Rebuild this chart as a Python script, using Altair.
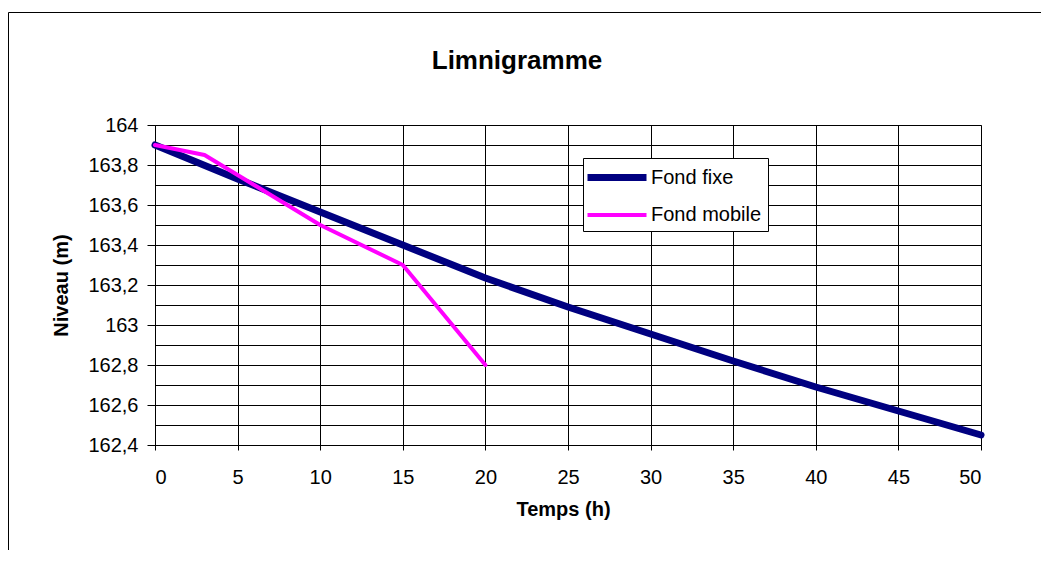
import altair as alt
import pandas as pd

# ---- data ----
temps_fixe = [0, 5, 10, 15, 20, 25, 30, 35, 40, 45, 50]
niveau_fixe = [163.9, 163.73, 163.565, 163.40, 163.235, 163.09, 162.955, 162.82, 162.69, 162.57, 162.45]

temps_mobile = [0, 3, 10, 15, 20]
niveau_mobile = [163.9, 163.85, 163.5, 163.3, 162.8]

series_names = ["Fond fixe", "Fond mobile"]
series_colors = ["#000080", "#FF00FF"]
series_widths = [7, 4]

x_ticks = [0, 5, 10, 15, 20, 25, 30, 35, 40, 45, 50]
y_ticks = [162.4, 162.5, 162.6, 162.7, 162.8, 162.9, 163.0, 163.1, 163.2, 163.3,
           163.4, 163.5, 163.6, 163.7, 163.8, 163.9, 164.0]

rows = []
for t, v in zip(temps_fixe, niveau_fixe):
    rows.append({"Temps": t, "Niveau": v, "Série": series_names[0], "ordre": 0})
for t, v in zip(temps_mobile, niveau_mobile):
    rows.append({"Temps": t, "Niveau": v, "Série": series_names[1], "ordre": 1})
df = pd.DataFrame(rows)

FONT = "Liberation Sans, Arial, sans-serif"
W, H = 826, 320

legend_props = dict(title=None, orient="none", legendX=428, legendY=33,
                    fillColor="white", strokeColor="black",
                    padding=6, symbolType="M-1.5,0H4.4", symbolSize=400,
                    labelFontSize=20, labelFont=FONT, labelColor="black",
                    labelOffset=35, rowPadding=11)

lines = alt.Chart(df).mark_line(strokeCap="round", strokeJoin="round").encode(
    x=alt.X("Temps:Q",
            scale=alt.Scale(domain=[0, 50], nice=False, zero=False),
            axis=alt.Axis(values=x_ticks, title="Temps (h)", grid=True,
                          tickSize=5, labelPadding=17, labelFontSize=20,
                          titleX=408, titleY=70, titleBaseline="alphabetic",
                          titleAnchor="start", titleAlign="center")),
    y=alt.Y("Niveau:Q",
            scale=alt.Scale(domain=[162.4, 164.0], nice=False, zero=False),
            axis=alt.Axis(values=y_ticks, title="Niveau (m)", grid=True,
                          tickSize=8, labelPadding=9, labelFontSize=20,
                          labelExpr="round(datum.value*10) % 2 == 0 ? replace(toString(round(datum.value*10)/10), '.', ',') : ''",
                          tickOpacity={"condition": {"test": "round(datum.value*10) % 2 == 0", "value": 1}, "value": 0},
                          titleX=-88, titleY=160, titleBaseline="alphabetic",
                          titleAngle=270)),
    color=alt.Color("Série:N",
                    scale=alt.Scale(domain=series_names, range=series_colors),
                    legend=alt.Legend(**legend_props)),
    strokeWidth=alt.StrokeWidth("Série:N",
                                scale=alt.Scale(domain=series_names, range=series_widths),
                                legend=alt.Legend(**legend_props)),
    order=alt.Order("ordre:Q"),
)

frame_data = alt.Data(values=[{"a": 1}])
frame_left = alt.Chart(frame_data).mark_rule(color="black", strokeWidth=1).encode(
    x=alt.value(-146.5), y=alt.value(-112.5), y2=alt.value(H + 110))
frame_top = alt.Chart(frame_data).mark_rule(color="black", strokeWidth=1).encode(
    x=alt.value(-146.5), x2=alt.value(W + 70), y=alt.value(-112.5))

chart = alt.layer(lines, frame_left, frame_top).properties(
    width=W, height=H,
    title=alt.TitleParams("Limnigramme", fontSize=26, fontWeight="bold", font=FONT,
                          anchor="middle", dx=-51, offset=0, dy=83, baseline="alphabetic",
                          color="black"),
    autosize=alt.AutoSizeParams(type="none"),
    padding={"left": 147, "top": 117, "right": 60, "bottom": 105},
).configure(
    font=FONT,
).configure_view(
    stroke="#808080", strokeWidth=1,
).configure_axis(
    labelFont=FONT, titleFont=FONT, labelColor="black", titleColor="black",
    titleFontSize=20, titleFontWeight="bold",
    gridColor="black", gridOpacity=1, gridWidth=1,
    domainColor="black", tickColor="black",
)

chart.save("out.html", embed_options={"renderer": "svg", "actions": False})
